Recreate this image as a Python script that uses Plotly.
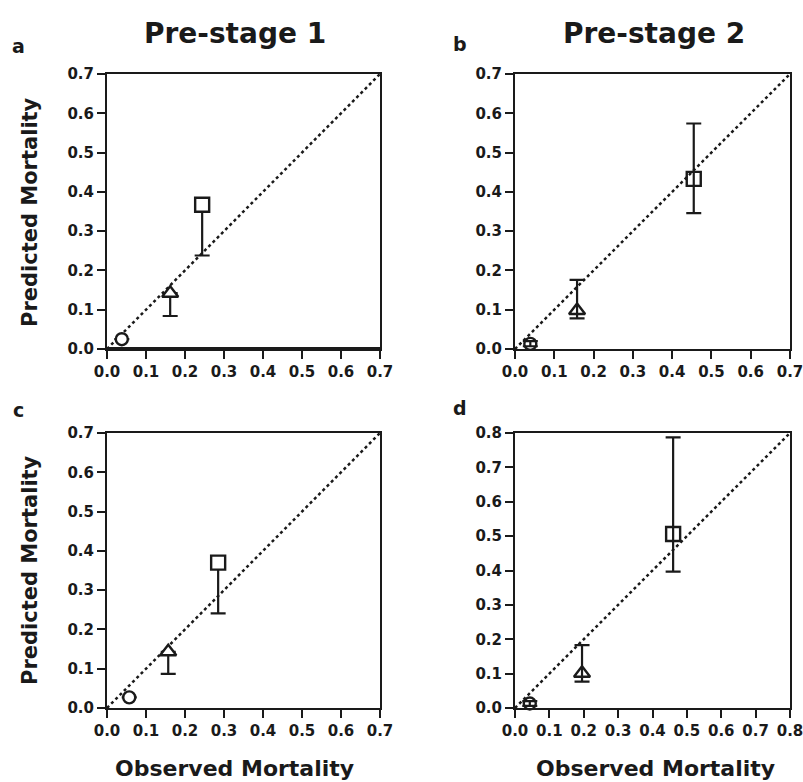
import plotly.graph_objects as go

# ---------------- data ----------------
# Observed (x) and predicted (y) mortality with CI bounds; order: circle, triangle, square
a_obs = [0.038, 0.162, 0.244]
a_pred = [0.025, 0.142, 0.367]
a_lo = [0.025, 0.084, 0.238]
a_hi = [0.025, 0.142, 0.367]

b_obs = [0.039, 0.158, 0.455]
b_pred = [0.013, 0.098, 0.433]
b_lo = [0.007, 0.078, 0.346]
b_hi = [0.020, 0.176, 0.574]

c_obs = [0.057, 0.157, 0.285]
c_pred = [0.027, 0.143, 0.370]
c_lo = [0.027, 0.087, 0.241]
c_hi = [0.027, 0.143, 0.370]

d_obs = [0.043, 0.195, 0.460]
d_pred = [0.013, 0.101, 0.506]
d_lo = [0.006, 0.077, 0.397]
d_hi = [0.020, 0.183, 0.787]

symbols = ["circle-open", "triangle-up-open", "square-open"]
symbols_filled = ["circle", "triangle-up", "square"]

axis_max = {"a": 0.7, "b": 0.7, "c": 0.7, "d": 0.8}
panel_titles = {"a": "Pre-stage 1", "b": "Pre-stage 2"}
y_title = "Predicted Mortality"
x_title = "Observed Mortality"

# ---------------- figure ----------------
W, H = 803, 782
FONT = "DejaVu Sans"
INK = "#1a1a1a"
fig = go.Figure()

px_dom = {"L": (107, 380), "R": (515, 790)}
py_dom = {"T": (74, 349), "B": (433, 708)}
layout_map = {"a": ("L", "T", ""), "b": ("R", "T", "2"), "c": ("L", "B", "3"), "d": ("R", "B", "4")}

panels = {
    "a": (a_obs, a_pred, a_lo, a_hi, True),
    "b": (b_obs, b_pred, b_lo, b_hi, False),
    "c": (c_obs, c_pred, c_lo, c_hi, True),
    "d": (d_obs, d_pred, d_lo, d_hi, False),
}

for key, (obs, pred, lo, hi, filled) in panels.items():
    col, row, suf = layout_map[key]
    xr = "x" + suf
    yr = "y" + suf
    m = axis_max[key]
    # identity line
    fig.add_trace(go.Scatter(
        x=[0, m], y=[0, m], mode="lines", xaxis=xr, yaxis=yr,
        line=dict(color=INK, width=2.5, dash="dot"), showlegend=False,
        hoverinfo="skip", cliponaxis=False))
    up = [h - p for h, p in zip(hi, pred)]
    dn = [p - l for p, l in zip(pred, lo)]
    fig.add_trace(go.Scatter(
        x=obs, y=pred, mode="markers", xaxis=xr, yaxis=yr, showlegend=False,
        cliponaxis=False,
        marker=dict(symbol=symbols_filled if filled else symbols, size=[12, 14, 14],
                    color="white" if filled else INK, opacity=1,
                    line=dict(color=INK, width=2.4)),
        error_y=dict(type="data", symmetric=False, array=up, arrayminus=dn,
                     color=INK, thickness=2.2, width=7.5)))

    x0, x1 = px_dom[col]
    y0, y1 = py_dom[row]
    axcommon = dict(showline=True, linewidth=2, linecolor=INK, mirror=True,
                    ticks="outside", ticklen=8, tickwidth=2, tickcolor=INK,
                    showgrid=False, zeroline=False, dtick=0.1, tick0=0,
                    tickformat=".1f", range=[0, m], fixedrange=True,
                    automargin=False, ticklabeloverflow="allow",
                    tickfont=dict(family=FONT, size=15, color=INK, weight="bold"))
    xname = "xaxis" + suf
    yname = "yaxis" + suf
    fig.layout[xname] = dict(axcommon, domain=[x0 / W, x1 / W], anchor=yr)
    fig.layout[yname] = dict(axcommon, domain=[1 - y1 / H, 1 - y0 / H], anchor=xr)

# thicker bottom axis in panel a
fig.add_shape(type="line", xref="x domain", yref="y domain", x0=0, x1=1, y0=0, y1=0,
              line=dict(color=INK, width=4))

ann_font = lambda s: dict(family=FONT, size=s, color=INK, weight="bold")
annotations = [
    dict(text=panel_titles["a"], x=235 / W, y=1 - 33 / H, font=ann_font(28)),
    dict(text=panel_titles["b"], x=654 / W, y=1 - 33 / H, font=ann_font(28)),
    dict(text="a", x=18 / W, y=1 - 46 / H, font=ann_font(19)),
    dict(text="b", x=460 / W, y=1 - 44 / H, font=ann_font(19)),
    dict(text="c", x=18 / W, y=1 - 410 / H, font=ann_font(19)),
    dict(text="d", x=460 / W, y=1 - 408 / H, font=ann_font(19)),
    dict(text=y_title, x=30 / W, y=1 - 212 / H, textangle=-90, font=ann_font(21)),
    dict(text=y_title, x=30 / W, y=1 - 570 / H, textangle=-90, font=ann_font(21)),
    dict(text=x_title, x=234 / W, y=1 - 768 / H, font=ann_font(22)),
    dict(text=x_title, x=655 / W, y=1 - 768 / H, font=ann_font(22)),
]
for a in annotations:
    fig.add_annotation(xref="paper", yref="paper", showarrow=False,
                       xanchor="center", yanchor="middle", **a)

fig.update_layout(template="none", width=W, height=H, autosize=False,
                  margin=dict(l=0, r=0, t=0, b=0, autoexpand=False),
                  paper_bgcolor="white", plot_bgcolor="white")

fig.write_html("out.html", config={"displayModeBar": False},
               post_script="document.body.style.margin='0';"
                           "document.body.style.overflow='hidden';")
